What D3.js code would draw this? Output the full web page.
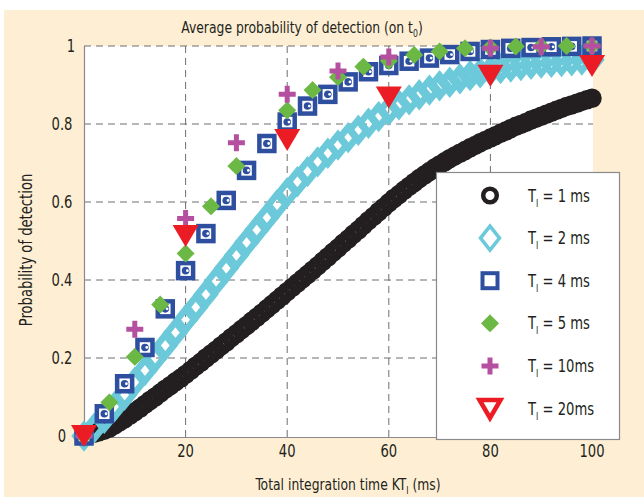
<!DOCTYPE html>
<html lang="en">
  <head>
    <meta charset="utf-8">
    <title>Average probability of detection</title>
    <script src="https://cdn.jsdelivr.net/npm/d3@7/dist/d3.min.js"></script>
    <style>
      body { margin: 0; background: #fff; }
      text { font-family: 'Liberation Sans Narrow', 'DejaVu Sans Condensed', sans-serif; fill: #231f20; }
    </style>
  </head>

  <body>
    <div id="chart"></div>

    <script type='text/javascript'>
      let x_ticks = [20, 40, 60, 80, 100]
      let y_ticks = [0, 0.2, 0.4, 0.6, 0.8, 1]
      let legend_labels = ['1 ms', '2 ms', '4 ms', '5 ms', '10ms', '20ms']

      // T_I = 1 ms, one point per ms
      let kt_1ms = d3.range(0, 101, 1)
      let pd_1ms = [0, 0.003, 0.007, 0.011, 0.015, 0.02,
                    0.028, 0.036, 0.044, 0.053, 0.062,
                    0.071, 0.081, 0.091, 0.1, 0.11,
                    0.12, 0.129, 0.139, 0.148, 0.158,
                    0.168, 0.179, 0.189, 0.2, 0.21,
                    0.22, 0.231, 0.241, 0.252, 0.262,
                    0.273, 0.283, 0.294, 0.304, 0.315,
                    0.326, 0.337, 0.348, 0.359, 0.37,
                    0.381, 0.392, 0.403, 0.414, 0.425,
                    0.436, 0.448, 0.459, 0.471, 0.482,
                    0.494, 0.505, 0.517, 0.528, 0.54,
                    0.552, 0.563, 0.575, 0.586, 0.598,
                    0.609, 0.619, 0.63, 0.64, 0.65,
                    0.66, 0.669, 0.678, 0.687, 0.695,
                    0.703, 0.711, 0.718, 0.725, 0.732,
                    0.739, 0.745, 0.752, 0.758, 0.764,
                    0.77, 0.776, 0.782, 0.788, 0.794,
                    0.799, 0.804, 0.81, 0.815, 0.82,
                    0.825, 0.83, 0.835, 0.84, 0.845,
                    0.849, 0.853, 0.858, 0.862, 0.866]

      // T_I = 2 ms
      let kt_2ms = d3.range(0, 101, 2)
      let pd_2ms = [0, 0.02, 0.045, 0.075, 0.105, 0.138, 0.168, 0.2, 0.232, 0.265,
                    0.298, 0.33, 0.363, 0.397, 0.43, 0.463, 0.496, 0.528, 0.56, 0.593,
                    0.624, 0.652, 0.678, 0.703, 0.725, 0.746, 0.765, 0.784, 0.802, 0.819,
                    0.835, 0.849, 0.862, 0.875, 0.887, 0.898, 0.907, 0.916, 0.924, 0.931,
                    0.937, 0.942, 0.946, 0.95, 0.953, 0.956, 0.958, 0.96, 0.962, 0.964,
                    0.965]

      // T_I = 4 ms
      let kt_4ms = d3.range(0, 101, 4)
      let pd_4ms = [0, 0.057, 0.134, 0.227, 0.326, 0.424, 0.519, 0.604, 0.681, 0.75,
                    0.805, 0.846, 0.876, 0.908, 0.934, 0.95, 0.961, 0.969, 0.978, 0.986,
                    0.991, 0.994, 0.996, 0.998, 0.999, 1]

      // T_I = 5 ms
      let kt_5ms = [0, 5, 10, 15, 20, 25, 30, 40, 45, 50, 55, 60, 65, 70, 75, 80, 85, 90, 95, 100]
      let pd_5ms = [0, 0.086, 0.203, 0.337, 0.468, 0.589, 0.692, 0.835, 0.887, 0.92, 0.947,
                    0.962, 0.977, 0.986, 0.994, 0.996, 0.999, 0.999, 1, 1]

      // T_I = 10 ms
      let kt_10ms = [0, 10, 20, 30, 40, 50, 60, 80, 90, 100]
      let pd_10ms = [0, 0.274, 0.558, 0.752, 0.876, 0.936, 0.972, 0.994, 0.998, 1]

      // T_I = 20 ms
      let kt_20ms = [0, 20, 40, 60, 80, 100]
      let pd_20ms = [0, 0.513, 0.759, 0.868, 0.924, 0.949]

      let width = 644
      let height = 497

      let svg = d3.select('#chart').append('svg')
        .attr('width', width)
        .attr('height', height)

      let scale_x = d3.scaleLinear()
        .domain([0, 100])
        .range([84, 592])
      let scale_y = d3.scaleLinear()
        .domain([0, 1])
        .range([436, 46])

      let black = '#231f20'
      let cyan = '#6bc9da'
      let blue = '#2e4f9f'
      let green = '#6cb844'
      let magenta = '#b4509f'
      let red = '#ec1c24'

      // the font is wider than the condensed original, squeeze it a little
      let squeeze = 0.86
      let at = (x, y) => 'translate(' + x + ',' + y + ') scale(' + squeeze + ',1)'

      // background
      svg.append('rect')
        .attr('x', 4).attr('y', 10)
        .attr('width', width - 4).attr('height', height - 10)
        .attr('fill', '#feefd4')

      svg.append('rect')
        .attr('x', 84).attr('y', 46)
        .attr('width', 509).attr('height', 391)
        .attr('fill', '#fff')

      // grid
      let grid = svg.append('g')
        .attr('stroke', '#6d6e71')
        .attr('stroke-width', 1)
        .attr('stroke-dasharray', '7,5')

      grid.selectAll('.vgrid')
        .data(x_ticks.filter((d) => d < 100))
        .enter()
        .append('line')
        .attr('x1', (d) => scale_x(d))
        .attr('x2', (d) => scale_x(d))
        .attr('y1', scale_y(1))
        .attr('y2', 437)

      grid.selectAll('.hgrid')
        .data(y_ticks.filter((d) => d > 0))
        .enter()
        .append('line')
        .attr('x1', 84)
        .attr('x2', 593)
        .attr('y1', (d) => scale_y(d))
        .attr('y2', (d) => scale_y(d))

      svg.append('path')
        .attr('d', 'M84.5,46V437.5H593')
        .attr('fill', 'none')
        .attr('stroke', '#8a8a8a')
        .attr('stroke-width', 1.2)

      // tick labels
      svg.selectAll('.xlab')
        .data(x_ticks)
        .enter()
        .append('text')
        .attr('transform', (d) => at(scale_x(d), 457))
        .attr('text-anchor', 'middle')
        .attr('font-size', '17px')
        .text((d) => d)

      svg.selectAll('.ylab')
        .data(y_ticks)
        .enter()
        .append('text')
        .attr('transform', (d) => at(d == 1 ? 71 : 62, scale_y(d) + 6))
        .attr('text-anchor', 'middle')
        .attr('font-size', '17px')
        .text((d) => d)

      // titles
      let title = svg.append('text')
        .attr('transform', at(302, 33))
        .attr('text-anchor', 'middle')
        .attr('font-size', '16px')
      title.append('tspan').text('Average probability of detection (on t')
      title.append('tspan').attr('font-size', '10px').attr('dy', 4).text('0')
      title.append('tspan').attr('dy', -4).text(')')

      let xlabel = svg.append('text')
        .attr('transform', at(348, 490))
        .attr('text-anchor', 'middle')
        .attr('font-size', '16px')
      xlabel.append('tspan').text('Total integration time KT')
      xlabel.append('tspan').attr('font-size', '10px').attr('dy', 4).text('I')
      xlabel.append('tspan').attr('dy', -4).text(' (ms)')

      svg.append('text')
        .attr('transform', 'translate(32,250) rotate(-90) scale(' + squeeze + ',1)')
        .attr('text-anchor', 'middle')
        .attr('font-size', '17px')
        .text('Probability of detection')

      // marker shapes
      let diamond = 'M0,-10.5L8.5,0L0,10.5L-8.5,0Z'
      let diamond_legend = 'M0,-12L9.5,0L0,12L-9.5,0Z'
      let green_mark = 'M0,-9L2.6,-6.4L6.4,-2.6L9,0L6.4,2.6L2.6,6.4L0,9L-2.6,6.4L-6.4,2.6L-9,0L-6.4,-2.6L-2.6,-6.4Z'
      let plus_mark = 'M-2.5,-8.5H2.5V-2.5H8.5V2.5H2.5V8.5H-2.5V2.5H-8.5V-2.5H-2.5Z'
      let tri_down = 'M-13,-11L13,-11L0,11Z'
      let tri_legend = 'M-10.5,-8.5L10.5,-8.5L0,9.5Z'

      let pairs = (xs, ys) => xs.map((d, i) => [d, ys[i]])
      let place = (d) => 'translate(' + scale_x(d[0]) + ',' + scale_y(d[1]) + ')'

      // T_I = 1 ms
      svg.append('g').selectAll('circle')
        .data(pairs(kt_1ms, pd_1ms))
        .enter()
        .append('circle')
        .attr('cx', (d) => scale_x(d[0]))
        .attr('cy', (d) => scale_y(d[1]))
        .attr('r', 6.5)
        .attr('fill', 'none')
        .attr('stroke', black)
        .attr('stroke-width', 6.5)

      // T_I = 2 ms
      svg.append('g').selectAll('path')
        .data(pairs(kt_2ms, pd_2ms))
        .enter()
        .append('path')
        .attr('transform', place)
        .attr('d', diamond)
        .attr('fill', 'none')
        .attr('stroke', cyan)
        .attr('stroke-width', 6.5)

      // T_I = 4 ms
      let sq = svg.append('g').selectAll('g')
        .data(pairs(kt_4ms, pd_4ms))
        .enter()
        .append('g')
        .attr('transform', place)
      sq.append('rect')
        .attr('x', -7.5).attr('y', -7.5)
        .attr('width', 15).attr('height', 15)
        .attr('fill', '#fff')
        .attr('stroke', blue)
        .attr('stroke-width', 4.5)
      sq.append('circle')
        .attr('r', 3.8)
        .attr('fill', blue)
      sq.append('circle')
        .attr('cx', 1.8)
        .attr('r', 1.4)
        .attr('fill', '#fff')

      // T_I = 5 ms
      svg.append('g').selectAll('path')
        .data(pairs(kt_5ms, pd_5ms))
        .enter()
        .append('path')
        .attr('transform', place)
        .attr('d', green_mark)
        .attr('fill', green)

      // T_I = 10 ms
      svg.append('g').selectAll('path')
        .data(pairs(kt_10ms, pd_10ms))
        .enter()
        .append('path')
        .attr('transform', place)
        .attr('d', plus_mark)
        .attr('fill', magenta)

      // T_I = 20 ms
      svg.append('g').selectAll('path')
        .data(pairs(kt_20ms, pd_20ms))
        .enter()
        .append('path')
        .attr('transform', place)
        .attr('d', tri_down)
        .attr('fill', red)

      // legend
      let legend = svg.append('g')
      legend.append('rect')
        .attr('x', 436.5).attr('y', 172.5)
        .attr('width', 183).attr('height', 267)
        .attr('fill', '#fff')
        .attr('stroke', '#8a8a8a')
        .attr('stroke-width', 1.2)

      let row_y = (i) => 195.5 + i * 42.6
      let mx = 490

      legend.append('circle')
        .attr('cx', mx).attr('cy', row_y(0)).attr('r', 6.8)
        .attr('fill', 'none').attr('stroke', black).attr('stroke-width', 4.5)
      legend.append('path')
        .attr('transform', 'translate(' + mx + ',' + row_y(1) + ')')
        .attr('d', diamond_legend)
        .attr('fill', 'none').attr('stroke', cyan).attr('stroke-width', 3.5)
      legend.append('rect')
        .attr('x', mx - 7.5).attr('y', row_y(2) - 7.5)
        .attr('width', 15).attr('height', 15)
        .attr('fill', '#fff').attr('stroke', blue).attr('stroke-width', 4)
      legend.append('path')
        .attr('transform', 'translate(' + mx + ',' + row_y(3) + ')')
        .attr('d', green_mark)
        .attr('fill', green)
      legend.append('path')
        .attr('transform', 'translate(' + mx + ',' + row_y(4) + ')')
        .attr('d', plus_mark)
        .attr('fill', magenta)
      legend.append('path')
        .attr('transform', 'translate(' + mx + ',' + row_y(5) + ')')
        .attr('d', tri_legend)
        .attr('fill', '#fff').attr('stroke', red).attr('stroke-width', 4.5)

      let ltext = legend.selectAll('.ltext')
        .data(legend_labels)
        .enter()
        .append('text')
        .attr('transform', (d, i) => at(528, row_y(i) + 6))
        .attr('font-size', '17px')
      ltext.append('tspan').text('T')
      ltext.append('tspan').attr('font-size', '10px').attr('dy', 5).text('I')
      ltext.append('tspan').attr('dy', -5).text((d) => ' = ' + d)
    </script>
  </body>
</html>
